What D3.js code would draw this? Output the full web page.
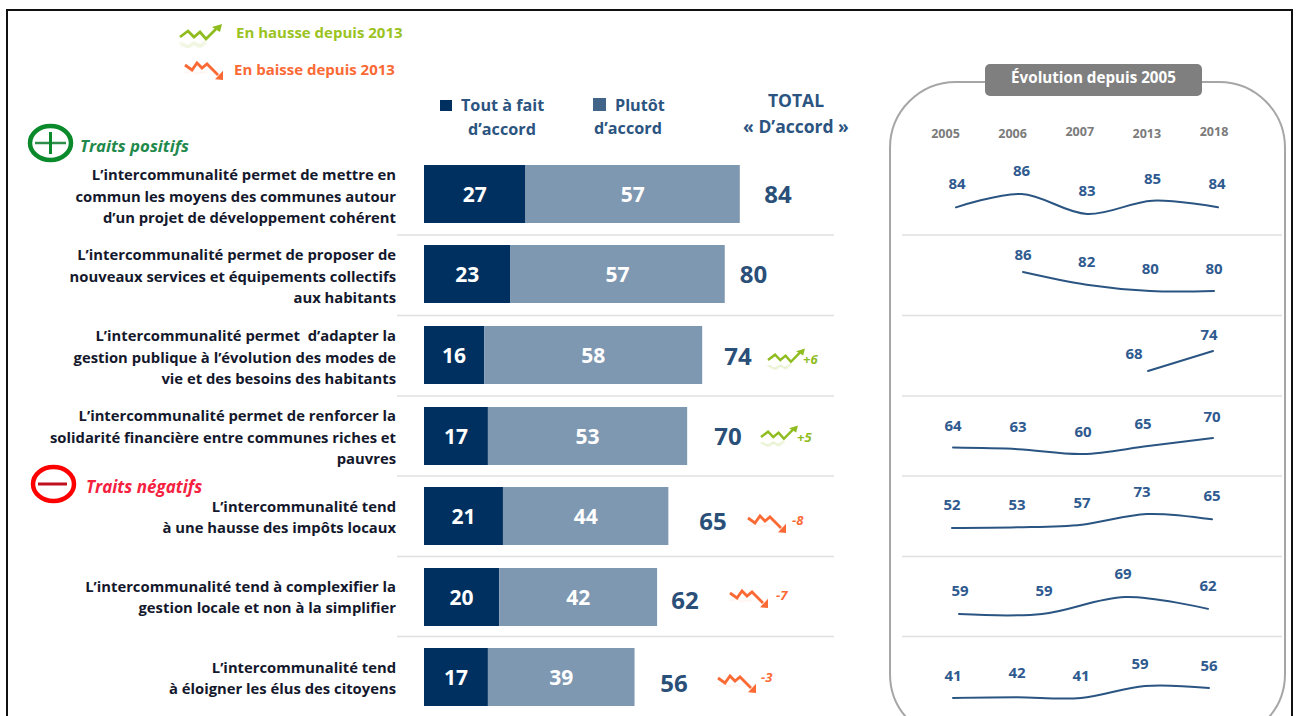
<!DOCTYPE html>
<html lang="fr">
<head>
<meta charset="UTF-8">
<title>Intercommunalité</title>
<style>
  html, body { margin: 0; padding: 0; background: #fff; overflow: hidden; }
  svg { display: block; font-family: "Open Sans", "Noto Sans", sans-serif; font-weight: 700; }
  text { white-space: pre; }
</style>
</head>
<body>
<svg id="chart" width="1296" height="716"></svg>
<script src="https://d3js.org/d3.v7.min.js"></script>
<script>
// data
const categories = [
  ["L’intercommunalité permet de mettre en", "commun les moyens des communes autour", "d’un projet de développement cohérent"],
  ["L’intercommunalité permet de proposer de", "nouveaux services et équipements collectifs", "aux habitants"],
  ["L’intercommunalité permet  d’adapter la", "gestion publique à l’évolution des modes de", "vie et des besoins des habitants"],
  ["L’intercommunalité permet de renforcer la", "solidarité financière entre communes riches et", "pauvres"],
  ["L’intercommunalité tend", "à une hausse des impôts locaux"],
  ["L’intercommunalité tend à complexifier la", "gestion locale et non à la simplifier"],
  ["L’intercommunalité tend", "à éloigner les élus des citoyens"]
];
const toutAFait = [27, 23, 16, 17, 21, 20, 17];
const plutot = [57, 57, 58, 53, 44, 42, 39];
const totals = [84, 80, 74, 70, 65, 62, 56];
const deltas = [null, null, 6, 5, -8, -7, -3];
const years = ["2005", "2006", "2007", "2013", "2018"];
const trend = [
  [84, 86, 83, 85, 84],
  [86, 82, 80, 80],
  [68, 74],
  [64, 63, 60, 65, 70],
  [52, 53, 57, 73, 65],
  [59, 59, 69, 62],
  [41, 42, 41, 59, 56]
];

// layout
const rowTop = [165, 245, 326, 407, 487, 568, 648];
const barH = 58;
const sepY = [235, 315.5, 396, 476, 556.5, 636.5];
const totalX = [778, 753.5, 738, 728, 713, 685, 674];
const totalY = [194, 274, 356, 436, 521, 600, 683];
const iconPos = [null, null, [768, 360, 0.88], [761, 437, 0.88], [748, 518, 1], [730, 593, 1], [718, 678, 1]];
const deltaPos = [null, null, [803, 360], [797, 438], [792, 521], [776, 596], [761, 678]];
const labelPos = [[175, 197, 218], [255, 277, 298], [336, 358, 379], [416, 438, 459], [507, 528], [587, 608], [668, 689]];
// sparkline x range and y range (low value, high value), one per row
const sparkX = [[956, 1218], [1023, 1214], [1148, 1213], [953, 1213], [952, 1212], [959, 1208], [953, 1209]];
const sparkY = [[214, 194], [291, 272], [371, 351], [454, 438], [528, 514], [614, 597], [698, 686]];
const sparkDx = [[1, 0, 0, 0, -1], [0, 0, 0, 0], [-14, -4], [0, 0, 0, -5, -1], [0, 0, 0, -5, 0], [1, 2, -2, 0], [0, 0, 0, -5, 0]];
const sparkLabelUp = [[23, 23, 23, 22, 23], [17, 23, 22, 22], [17, 16], [22, 22, 22, 22, 21], [23, 22, 22, 22, 23], [23, 23, 23, 23], [22, 24, 22, 22, 22]];
const yearDy = [134, 134, 132, 134, 132];

const navy = "#00305f", steel = "#7f98b2", txt = "#2c5480", green = "#8fbc1e", orange = "#fb6a35";

const svg = d3.select("#chart");

svg.append("defs").append("filter").attr("id", "soft")
  .append("feGaussianBlur").attr("stdDeviation", 1.2);

// page frame
svg.append("rect").attr("x", 7).attr("y", 10).attr("width", 1285).attr("height", 760)
  .attr("fill", "none").attr("stroke", "#111").attr("stroke-width", 2);

// legend icons
const zigLine = d3.line();
function trendIcon(x, y, s, up) {
  const g = svg.append("g").attr("transform", `translate(${x},${y}) scale(${s})`);
  const pts = up
    ? [[0, 0], [8, -6], [14, 0], [20, -5], [26, 2], [36, -8]]
    : [[0, 0], [7, 5], [12, -2], [17, 3], [22, -1], [33, 10]];
  const head = up ? [[42, -13], [32, -10], [40, -5]] : [[38, 15], [30, 14.3], [38, 5.7]];
  const c = up ? green : orange;
  // faint reflection under the zigzag
  g.append("path").attr("d", zigLine(pts.slice(0, 5)))
    .attr("transform", up ? "translate(0,6) scale(1,-0.7)" : "translate(0,8) scale(1,-0.4)")
    .attr("fill", "none").attr("stroke", c).attr("stroke-width", 3)
    .attr("opacity", up ? 0.2 : 0.08).attr("filter", "url(#soft)");
  g.append("path").attr("d", zigLine(pts)).attr("fill", "none").attr("stroke", c).attr("stroke-width", 2.8);
  g.append("path").attr("d", zigLine(head) + "Z").attr("fill", c);
}
trendIcon(180, 37, 1, true);
trendIcon(185, 65, 1, false);
svg.append("text").attr("x", 236).attr("y", 38).attr("font-size", 15).attr("fill", "#9bc31f").text("En hausse depuis 2013");
svg.append("text").attr("x", 234).attr("y", 75).attr("font-size", 15).attr("fill", orange).text("En baisse depuis 2013");

// column heads
svg.append("rect").attr("x", 440).attr("y", 100).attr("width", 12).attr("height", 11).attr("fill", navy);
svg.append("rect").attr("x", 593).attr("y", 98).attr("width", 13).attr("height", 13).attr("fill", "#426488");
const head = svg.append("g").attr("font-size", 16.2).attr("fill", txt);
head.append("text").attr("x", 461).attr("y", 111).text("Tout à fait");
head.append("text").attr("x", 502).attr("y", 135).attr("text-anchor", "middle").text("d’accord");
head.append("text").attr("x", 615).attr("y", 111).text("Plutôt");
head.append("text").attr("x", 628).attr("y", 134).attr("text-anchor", "middle").text("d’accord");
head.append("text").attr("x", 796).attr("y", 107).attr("text-anchor", "middle").attr("font-size", 17.5).text("TOTAL");
head.append("text").attr("x", 796).attr("y", 133).attr("text-anchor", "middle").attr("font-size", 17.5).text("« D’accord »");

// positive / negative badges
svg.append("ellipse").attr("cx", 50.5).attr("cy", 143).attr("rx", 20.5).attr("ry", 17)
  .attr("fill", "none").attr("stroke", "#0a8a2a").attr("stroke-width", 4.5);
svg.append("path").attr("d", "M35 143H66").attr("stroke", "#2f8f4a").attr("stroke-width", 2.5);
svg.append("path").attr("d", "M50.5 132V154").attr("stroke", "#0a8a2a").attr("stroke-width", 3);
svg.append("text").attr("x", 80).attr("y", 152).attr("font-size", 16.8).attr("font-style", "italic")
  .attr("fill", "#1f8a4c").text("Traits positifs");
svg.append("ellipse").attr("cx", 53.5).attr("cy", 484).attr("rx", 20.5).attr("ry", 17)
  .attr("fill", "none").attr("stroke", "#f00").attr("stroke-width", 4.5);
svg.append("path").attr("d", "M38 484H67").attr("stroke", "#c01020").attr("stroke-width", 3);
svg.append("text").attr("x", 86).attr("y", 493).attr("font-size", 17).attr("font-style", "italic")
  .attr("fill", "#f5213f").text("Traits négatifs");

// row labels
const labels = svg.append("g").attr("font-size", 14.8).attr("fill", "#14182c").attr("text-anchor", "end");
categories.forEach((lines, i) => {
  labels.selectAll(null).data(lines).join("text")
    .attr("x", 396)
    .attr("y", (d, j) => labelPos[i][j] + 5)
    .text(d => d);
});

// separators
svg.append("g").selectAll("line").data(sepY).join("line")
  .attr("x1", 397).attr("x2", 834).attr("y1", d => d).attr("y2", d => d)
  .attr("stroke", "#e0e0e0").attr("stroke-width", 1.5);

// stacked bars
const x = d3.scaleLinear().domain([0, 84]).range([424, 739.8]);
const rows = svg.append("g").selectAll("g").data(d3.range(categories.length)).join("g");
rows.append("rect").attr("x", x(0)).attr("y", i => rowTop[i]).attr("height", barH)
  .attr("width", i => x(toutAFait[i]) - x(0)).attr("fill", navy);
rows.append("rect").attr("x", i => x(toutAFait[i])).attr("y", i => rowTop[i]).attr("height", barH)
  .attr("width", i => x(toutAFait[i] + plutot[i]) - x(toutAFait[i])).attr("fill", steel);
rows.append("text").attr("x", i => x(toutAFait[i] / 2)).attr("y", i => rowTop[i] + barH / 2 + 8)
  .attr("text-anchor", "middle").attr("font-size", 21).attr("fill", "#fff").text(i => toutAFait[i]);
rows.append("text").attr("x", i => x(toutAFait[i] + plutot[i] / 2)).attr("y", i => rowTop[i] + barH / 2 + 8)
  .attr("text-anchor", "middle").attr("font-size", 21).attr("fill", "#fff").text(i => plutot[i]);
rows.append("text").attr("x", i => totalX[i]).attr("y", i => totalY[i] + 9)
  .attr("text-anchor", "middle").attr("font-size", 24).attr("fill", "#2a4f78").text(i => totals[i]);

// change since 2013
deltas.forEach((d, i) => {
  if (d === null) return;
  trendIcon(iconPos[i][0], iconPos[i][1], iconPos[i][2], d > 0);
  svg.append("text").attr("x", deltaPos[i][0]).attr("y", deltaPos[i][1] + 4)
    .attr("font-size", 13).attr("font-style", "italic")
    .attr("fill", d > 0 ? green : orange)
    .text(d > 0 ? "+" + d : d);
});

// evolution panel
svg.append("rect").attr("x", 890).attr("y", 82).attr("width", 395).attr("height", 658)
  .attr("rx", 66).attr("ry", 66).attr("fill", "none").attr("stroke", "#a6a6a6").attr("stroke-width", 2);
svg.append("rect").attr("x", 985).attr("y", 64).attr("width", 217).attr("height", 32).attr("rx", 5)
  .attr("fill", "#7f7f7f");
svg.append("text").attr("x", 1093.5).attr("y", 83).attr("text-anchor", "middle").attr("font-size", 15.2)
  .attr("fill", "#fff").text("Évolution depuis 2005");

const xYear = d3.scalePoint().domain(years).range([945.5, 1214]);
svg.append("g").selectAll("text").data(years).join("text")
  .attr("x", d => xYear(d)).attr("y", (d, i) => yearDy[i] + 4)
  .attr("text-anchor", "middle").attr("font-size", 12.5).attr("fill", "#7b7b7b").text(d => d);

svg.append("g").selectAll("line").data(sepY).join("line")
  .attr("x1", 902).attr("x2", 1282).attr("y1", d => d).attr("y2", d => d)
  .attr("stroke", "#e0e0e0").attr("stroke-width", 1.5);

// sparklines, each row has its own scales
trend.forEach((vals, i) => {
  const sx = d3.scalePoint().domain(d3.range(vals.length)).range(sparkX[i]);
  const sy = d3.scaleLinear().domain(d3.extent(vals)).range(sparkY[i]);
  const line = d3.line().x((d, j) => sx(j)).y(d => sy(d)).curve(d3.curveCatmullRom.alpha(0.5));
  svg.append("path").attr("d", line(vals)).attr("fill", "none")
    .attr("stroke", "#2a5582").attr("stroke-width", 2).attr("stroke-linecap", "round");
  svg.append("g").selectAll("text").data(vals).join("text")
    .attr("x", (d, j) => sx(j) + sparkDx[i][j])
    .attr("y", (d, j) => sy(d) - sparkLabelUp[i][j] + 5)
    .attr("text-anchor", "middle").attr("font-size", 15).attr("fill", "#2f5a8f").text(d => d);
});
</script>
</body>
</html>
